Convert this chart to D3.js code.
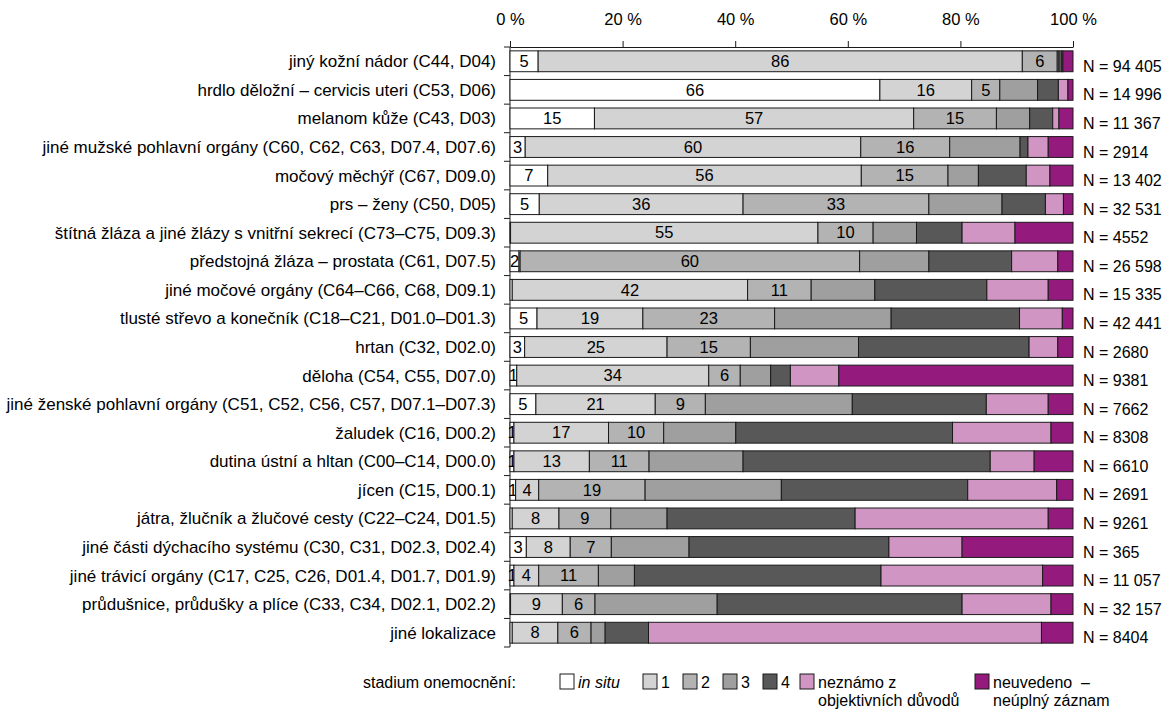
<!DOCTYPE html>
<html>
<head>
<meta charset="utf-8">
<script src="https://cdn.jsdelivr.net/npm/d3@7"></script>
<style>
  html, body { margin: 0; padding: 0; background: #ffffff; }
  svg { display: block; font-family: "Liberation Sans", Arial, sans-serif; }
</style>
</head>
<body>
<svg id="chart" width="1168" height="709"></svg>
<script>
// Diagnoses (rows, top to bottom)
const categories = [
  "jiný kožní nádor (C44, D04)",
  "hrdlo děložní – cervicis uteri (C53, D06)",
  "melanom kůže (C43, D03)",
  "jiné mužské pohlavní orgány (C60, C62, C63, D07.4, D07.6)",
  "močový měchýř (C67, D09.0)",
  "prs – ženy (C50, D05)",
  "štítná žláza a jiné žlázy s vnitřní sekrecí (C73–C75, D09.3)",
  "předstojná žláza – prostata (C61, D07.5)",
  "jiné močové orgány (C64–C66, C68, D09.1)",
  "tlusté střevo a konečník (C18–C21, D01.0–D01.3)",
  "hrtan (C32, D02.0)",
  "děloha (C54, C55, D07.0)",
  "jiné ženské pohlavní orgány (C51, C52, C56, C57, D07.1–D07.3)",
  "žaludek (C16, D00.2)",
  "dutina ústní a hltan (C00–C14, D00.0)",
  "jícen (C15, D00.1)",
  "játra, žlučník a žlučové cesty (C22–C24, D01.5)",
  "jiné části dýchacího systému (C30, C31, D02.3, D02.4)",
  "jiné trávicí orgány (C17, C25, C26, D01.4, D01.7, D01.9)",
  "průdušnice, průdušky a plíce (C33, C34, D02.1, D02.2)",
  "jiné lokalizace"
];

// Number of cases per diagnosis
const counts = ["94 405", "14 996", "11 367", "2914", "13 402", "32 531", "4552",
  "26 598", "15 335", "42 441", "2680", "9381", "7662", "8308", "6610", "2691",
  "9261", "365", "11 057", "32 157", "8404"];

// Share of cases (%) by stage
const inSitu      = [5.0, 65.7, 15.0, 2.7, 6.7, 5.2, 0.1, 1.6, 0.4, 4.8, 2.6, 1.2, 4.6, 0.7, 0.7, 1.0, 0.4, 2.9, 0.7, 0.1, 0.4];
const stage1      = [86.0, 16.3, 56.7, 59.6, 55.7, 36.2, 54.6, 0.2, 41.8, 18.8, 25.3, 34.1, 21.2, 16.8, 13.4, 4.1, 8.3, 7.8, 4.4, 9.2, 8.1];
const stage2      = [6.2, 5.0, 14.7, 15.8, 15.4, 33.0, 9.8, 60.3, 11.3, 23.4, 14.8, 5.6, 8.9, 9.8, 10.6, 18.9, 9.2, 7.3, 10.6, 5.8, 5.9];
const stage3      = [0.3, 6.7, 5.9, 12.5, 5.4, 13.0, 7.7, 12.3, 11.3, 20.7, 19.2, 5.4, 26.1, 12.8, 16.7, 24.2, 10.0, 13.8, 6.4, 21.7, 2.5];
const stage4      = [0.5, 3.7, 4.1, 1.4, 8.5, 7.7, 8.1, 14.7, 19.9, 22.8, 30.3, 3.5, 23.8, 38.5, 43.9, 33.1, 33.4, 35.5, 43.8, 43.5, 7.7];
const unknownObj  = [0.2, 1.7, 1.1, 3.6, 4.2, 3.2, 9.4, 8.2, 10.9, 7.6, 5.1, 8.6, 11.0, 17.5, 7.8, 15.8, 34.3, 13.0, 28.7, 15.8, 69.8];
const notStated   = [1.8, 0.9, 2.5, 4.4, 4.1, 1.7, 10.3, 2.7, 4.4, 1.9, 2.7, 41.6, 4.4, 3.9, 6.9, 2.9, 4.4, 19.7, 5.4, 3.9, 5.6];

const seriesValues = [inSitu, stage1, stage2, stage3, stage4, unknownObj, notStated];
const seriesColors = ["#ffffff", "#d3d3d3", "#b3b3b3", "#9f9f9f", "#585858", "#d095c3", "#951a7d"];
// Only these stages carry a value label inside the bar
const labelledSeries = [0, 1, 2];

const axisTicks = [0, 20, 40, 60, 80, 100];

const svg = d3.select("#chart");
const x = d3.scaleLinear().domain([0, 100]).range([510, 1073]);
const y = d3.scaleBand().domain(categories).range([47, 647]).paddingInner(0.27).paddingOuter(0.135);

const ink = "#1a1a1a";
const fontSize = 16.5;
const categoryFontSize = 17;
const countFontSize = 16;

// Top percentage axis
const xAxis = d3.axisTop(x)
  .tickValues(axisTicks)
  .tickFormat(d => d + " %")
  .tickSize(6)
  .tickSizeOuter(0)
  .tickPadding(16);
const gx = svg.append("g").attr("transform", "translate(0,47)").call(xAxis);
gx.selectAll("path, line").attr("stroke", ink);
gx.selectAll("text").attr("font-size", fontSize).attr("fill", "#000").attr("font-family", "Liberation Sans, Arial, sans-serif");

// Left axis line with ticks at the row boundaries
const gapHalf = y.step() * y.paddingInner() / 2;
const boundaries = categories.map(c => y(c) - gapHalf).concat([y(categories[categories.length - 1]) + y.bandwidth() + gapHalf]);
const gy = svg.append("g");
gy.append("line").attr("x1", x(0)).attr("x2", x(0)).attr("y1", 47).attr("y2", boundaries[boundaries.length - 1]).attr("stroke", ink);
gy.selectAll("line.tick").data(boundaries).join("line")
  .attr("class", "tick")
  .attr("x1", x(0) - 6).attr("x2", x(0))
  .attr("y1", d => d).attr("y2", d => d)
  .attr("stroke", ink);

// Category labels
svg.append("g").selectAll("text").data(categories).join("text")
  .attr("x", 496)
  .attr("y", d => y(d) + y.bandwidth() / 2)
  .attr("dy", "0.35em")
  .attr("text-anchor", "end")
  .attr("font-size", categoryFontSize)
  .attr("fill", "#000")
  .text(d => d);

// Stacked bars: each segment followed by its label so the next segment covers any overflow
const rows = svg.append("g").selectAll("g.row").data(categories).join("g").attr("class", "row");
rows.each(function (cat, i) {
  const g = d3.select(this);
  let acc = 0;
  seriesValues.forEach((vals, s) => {
    const v = vals[i];
    const x0 = x(acc), x1 = x(acc + v);
    acc += v;
    if (v <= 0) return;
    g.append("rect")
      .attr("x", x0).attr("y", y(cat))
      .attr("width", x1 - x0).attr("height", y.bandwidth())
      .attr("fill", seriesColors[s])
      .attr("stroke", ink).attr("stroke-width", 1);
    const r = Math.round(v);
    if (labelledSeries.includes(s) && r >= 1) {
      g.append("text")
        .attr("x", (x0 + x1) / 2)
        .attr("y", y(cat) + y.bandwidth() / 2)
        .attr("dy", "0.35em")
        .attr("text-anchor", "middle")
        .attr("font-size", fontSize)
        .attr("fill", "#000")
        .text(r);
    }
  });
});

// Case counts at the right of each bar
svg.append("g").selectAll("text").data(categories).join("text")
  .attr("x", 1083)
  .attr("y", d => y(d) + y.bandwidth() / 2 + 5)
  .attr("dy", "0.35em")
  .attr("font-size", countFontSize)
  .attr("fill", "#000")
  .text((d, i) => "N = " + counts[i]);

// Legend
const legend = svg.append("g");
legend.append("text").attr("x", 516).attr("y", 682).attr("dy", "0.35em")
  .attr("text-anchor", "end").attr("font-size", 16).text("stadium onemocnění:");

const legendItems = [
  { s: 0, bx: 560, lines: ["in situ"], italic: true, tx: 578 },
  { s: 1, bx: 643, lines: ["1"], tx: 661 },
  { s: 2, bx: 683, lines: ["2"], tx: 701 },
  { s: 3, bx: 723, lines: ["3"], tx: 741 },
  { s: 4, bx: 763, lines: ["4"], tx: 781 },
  { s: 5, bx: 800, lines: ["neznámo z", "objektivních důvodů"], tx: 818 },
  { s: 6, bx: 975, lines: ["neuvedeno  –", "neúplný záznam"], tx: 993 }
];
legendItems.forEach(item => {
  legend.append("rect")
    .attr("x", item.bx).attr("y", 674)
    .attr("width", 14).attr("height", 15)
    .attr("fill", seriesColors[item.s])
    .attr("stroke", ink);
  item.lines.forEach((line, k) => {
    legend.append("text")
      .attr("x", item.tx).attr("y", 682 + k * 18).attr("dy", "0.35em")
      .attr("font-size", 16)
      .attr("font-style", item.italic ? "italic" : null)
      .style("white-space", "pre")
      .text(line);
  });
});
</script>
</body>
</html>
